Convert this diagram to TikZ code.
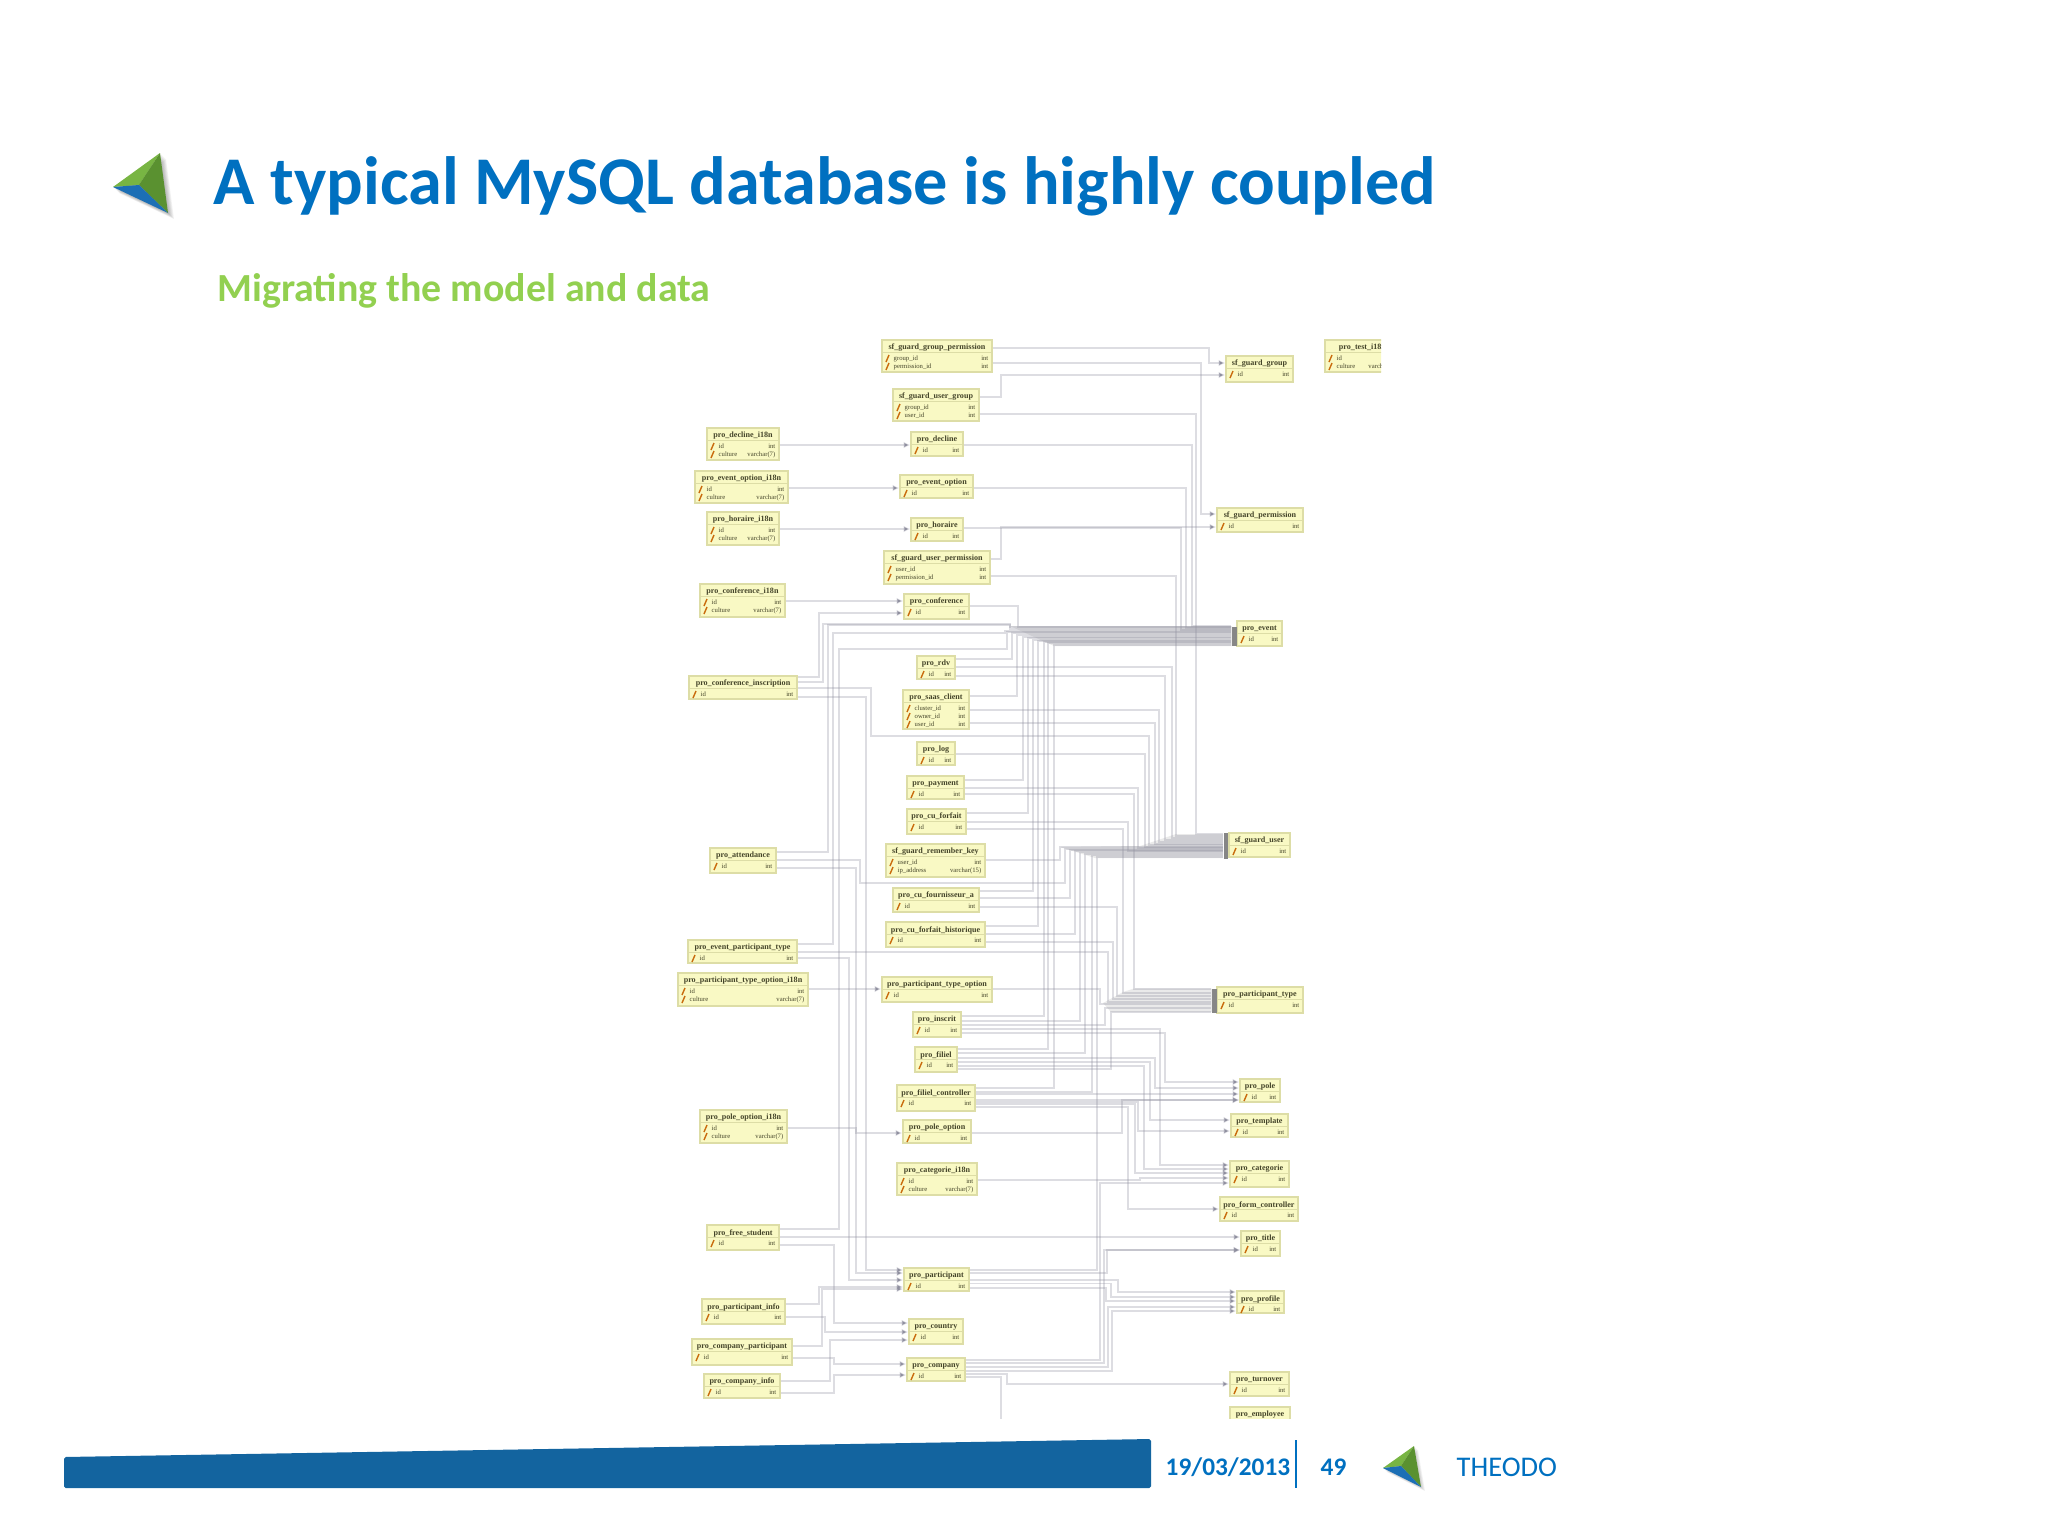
\documentclass[tikz,border=0pt]{standalone}
\usepackage{fontspec}
\setmainfont{Carlito}
\newfontfamily\dbfont{Liberation Serif}
\usetikzlibrary{arrows.meta}
\catcode`\_=12

\definecolor{titleblue}{HTML}{0070C0}
\definecolor{subgreen}{HTML}{92D050}
\definecolor{barblue}{HTML}{13649F}
\definecolor{dbfill}{HTML}{F9F9C4}
\definecolor{dbedge}{HTML}{DDDDA6}
\definecolor{dbtext}{HTML}{45452A}
\definecolor{fkgray}{HTML}{8E8E9E}
\definecolor{leaflight}{HTML}{78B543}
\definecolor{leafdark}{HTML}{5A9130}
\definecolor{leafblue}{HTML}{1C6FB5}

\tikzset{
	dbbox/.style={draw=dbedge,line width=0.35pt,fill=dbfill,inner sep=0pt},
	dbtitle/.style={font=\dbfont\bfseries\fontsize{2.3}{3}\selectfont,text=dbtext,inner sep=0pt},
	dbfield/.style={font=\dbfont\fontsize{1.9}{2.4}\selectfont,text=dbtext,inner sep=0pt},
	dbsep/.style={draw=dbedge,line width=0.3pt},
	dbkey/.style={draw=black!20!orange!80!brown,line width=0.4pt},
	dbbar/.style={fill=gray!95,inner sep=0pt,minimum width=1.4pt},
	bundle/.style={fill=gray!55,opacity=0.3},
	fk/.style={draw=fkgray,draw opacity=0.3,line width=0.55pt},
	fka/.style={fk,-{Latex[length=1.9pt,width=1.9pt]}},
	slidetext/.style={inner sep=0pt,anchor=base west}
}

% name, x1, y1, x2, y2, title, rows
\newcommand{\dbtable}[7]{
	\node[dbbox,minimum width={(#4-#2)*0.2845pt},minimum height={(#5-#3)*0.2845pt}] at ({(#2+#4)/2},{(#3+#5)/2}) (#1) {};
	\node[dbtitle] at ({(#2+#4)/2},#3+8) (#1-title) {#6};
	\draw[dbsep] (#2,#3+12.5) -- (#4,#3+12.5);
	\foreach \fld/\typ [count=\i] in {#7} {
		\draw[dbkey] (#2+4,{#3+14+8*\i}) -- (#2+7,{#3+7+8*\i});
		\node[dbfield,anchor=west] at (#2+11,{#3+10.5+8*\i}) (#1-f\i) {\fld};
		\node[dbfield,anchor=east] at (#4-3,{#3+10.5+8*\i}) (#1-t\i) {\typ};
	}
}

\begin{document}
\begin{tikzpicture}[x=0.01cm,y=-0.01cm]
	\useasboundingbox (0,0) rectangle (2048,1536);

	% header
	\foreach \d in {1,...,6} {
		\fill[black,opacity=0.05,shift={(\d,\d)}] (160,153) -- (113,187) -- (168,213) -- cycle;
	}
	\fill[leaflight] (160,153) -- (113,187) -- (139,185) -- cycle;
	\fill[leafdark] (160,153) -- (139,185) -- (168,213) -- cycle;
	\fill[leafblue] (113,187) -- (139,185) -- (168,213) -- cycle;
	\node[slidetext,text=titleblue,font=\bfseries\fontsize{19.42}{19.42}\selectfont] at (213,204) (headline) {A typical MySQL database is highly coupled};
	\node[slidetext,text=subgreen,font=\bfseries\fontsize{11.34}{11.34}\selectfont] at (217,301) (subline) {Migrating the model and data};

	% footer
	\fill[barblue,rounded corners=0.5pt] (64,1457) -- (1151,1439) -- (1151,1488) -- (64,1488) -- cycle;
	\node[slidetext,text=titleblue,font=\bfseries\fontsize{7.2}{7.2}\selectfont] at (1165,1475) (date) {19/03/2013};
	\draw[titleblue,line width=0.4pt] (1296,1440) -- (1296,1488);
	\node[slidetext,text=titleblue,font=\bfseries\fontsize{7.2}{7.2}\selectfont] at (1320,1475) (page) {49};
	\foreach \d in {1,...,4} {
		\fill[black,opacity=0.05,shift={(\d,\d)}] (1414,1446) -- (1383,1468) -- (1421,1487) -- cycle;
	}
	\fill[leaflight] (1414,1446) -- (1383,1468) -- (1401,1466) -- cycle;
	\fill[leafdark] (1414,1446) -- (1401,1466) -- (1421,1487) -- cycle;
	\fill[leafblue] (1383,1468) -- (1401,1466) -- (1421,1487) -- cycle;
	\node[slidetext,text=titleblue,font=\fontsize{8.1}{8.1}\selectfont] at (1456,1476) (company-name) {THEODO};

	\begin{scope}
	\clip (660,330) rectangle (1381,1418);

	% tables
	\dbtable{group_perm}{882}{340}{992}{372}{sf_guard_group_permission}{group_id/int,permission_id/int}
	\dbtable{guard_group}{1226}{356}{1293}{382}{sf_guard_group}{id/int}
	\dbtable{test_i18n}{1325}{340}{1400}{372}{pro_test_i18n}{id/int,culture/varchar(7)}
	\dbtable{user_group}{893}{389}{979}{421}{sf_guard_user_group}{group_id/int,user_id/int}
	\dbtable{decline_i18n}{707}{428}{779}{460}{pro_decline_i18n}{id/int,culture/varchar(7)}
	\dbtable{decline}{911}{432}{963}{456}{pro_decline}{id/int}
	\dbtable{evopt_i18n}{695}{471}{788}{503}{pro_event_option_i18n}{id/int,culture/varchar(7)}
	\dbtable{evopt}{900}{475}{973}{498}{pro_event_option}{id/int}
	\dbtable{horaire_i18n}{707}{512}{779}{545}{pro_horaire_i18n}{id/int,culture/varchar(7)}
	\dbtable{horaire}{911}{518}{963}{541}{pro_horaire}{id/int}
	\dbtable{guard_perm}{1217}{508}{1303}{532}{sf_guard_permission}{id/int}
	\dbtable{user_perm}{884}{551}{990}{584}{sf_guard_user_permission}{user_id/int,permission_id/int}
	\dbtable{conf_i18n}{700}{584}{785}{617}{pro_conference_i18n}{id/int,culture/varchar(7)}
	\dbtable{conf}{904}{594}{969}{619}{pro_conference}{id/int}
	\dbtable{event}{1237}{621}{1282}{646}{pro_event}{id/int}
	\dbtable{rdv}{917}{656}{955}{679}{pro_rdv}{id/int}
	\dbtable{conf_insc}{689}{676}{797}{699}{pro_conference_inscription}{id/int}
	\dbtable{saas}{903}{690}{969}{729}{pro_saas_client}{cluster_id/int,owner_id/int,user_id/int}
	\dbtable{log}{917}{742}{955}{765}{pro_log}{id/int}
	\dbtable{payment}{907}{776}{964}{799}{pro_payment}{id/int}
	\dbtable{forfait}{907}{809}{966}{834}{pro_cu_forfait}{id/int}
	\dbtable{rem_key}{886}{844}{985}{877}{sf_guard_remember_key}{user_id/int,ip_address/varchar(15)}
	\dbtable{attendance}{710}{848}{776}{873}{pro_attendance}{id/int}
	\dbtable{guard_user}{1229}{833}{1290}{857}{sf_guard_user}{id/int}
	\dbtable{fournisseur}{893}{888}{979}{912}{pro_cu_fournisseur_a}{id/int}
	\dbtable{forfait_hist}{886}{922}{985}{947}{pro_cu_forfait_historique}{id/int}
	\dbtable{ev_part_type}{688}{940}{797}{963}{pro_event_participant_type}{id/int}
	\dbtable{pt_opt_i18n}{678}{973}{808}{1006}{pro_participant_type_option_i18n}{id/int,culture/varchar(7)}
	\dbtable{pt_opt}{882}{977}{992}{1002}{pro_participant_type_option}{id/int}
	\dbtable{part_type}{1217}{987}{1303}{1013}{pro_participant_type}{id/int}
	\dbtable{inscrit}{913}{1012}{961}{1037}{pro_inscrit}{id/int}
	\dbtable{filiel}{915}{1047}{957}{1072}{pro_filiel}{id/int}
	\dbtable{pole}{1240}{1079}{1280}{1102}{pro_pole}{id/int}
	\dbtable{filiel_ctrl}{897}{1085}{975}{1111}{pro_filiel_controller}{id/int}
	\dbtable{pole_opt_i18n}{700}{1110}{787}{1143}{pro_pole_option_i18n}{id/int,culture/varchar(7)}
	\dbtable{pole_opt}{903}{1120}{971}{1143}{pro_pole_option}{id/int}
	\dbtable{template}{1231}{1114}{1288}{1137}{pro_template}{id/int}
	\dbtable{cat_i18n}{897}{1163}{977}{1195}{pro_categorie_i18n}{id/int,culture/varchar(7)}
	\dbtable{categorie}{1230}{1161}{1289}{1187}{pro_categorie}{id/int}
	\dbtable{form_ctrl}{1220}{1197}{1298}{1221}{pro_form_controller}{id/int}
	\dbtable{free_student}{707}{1225}{779}{1250}{pro_free_student}{id/int}
	\dbtable{title}{1241}{1231}{1280}{1256}{pro_title}{id/int}
	\dbtable{participant}{904}{1268}{969}{1291}{pro_participant}{id/int}
	\dbtable{profile}{1237}{1291}{1284}{1313}{pro_profile}{id/int}
	\dbtable{part_info}{702}{1299}{785}{1324}{pro_participant_info}{id/int}
	\dbtable{country}{909}{1319}{963}{1344}{pro_country}{id/int}
	\dbtable{comp_part}{692}{1339}{792}{1365}{pro_company_participant}{id/int}
	\dbtable{company}{907}{1358}{965}{1381}{pro_company}{id/int}
	\dbtable{comp_info}{704}{1374}{780}{1398}{pro_company_info}{id/int}
	\dbtable{turnover}{1230}{1372}{1289}{1396}{pro_turnover}{id/int}
	\dbtable{employee}{1230}{1407}{1290}{1431}{pro_employee}{id/int}

	\node[dbbar,minimum height=5.4pt] at (1234.5,636.5) (event_bar) {};
	\node[dbbar,minimum height=7.4pt] at (1226,846) (user_bar) {};
	\node[dbbar,minimum height=6.9pt] at (1214.5,1001) (type_bar) {};

	% the thick bands in front of the bars
	\fill[bundle] (1010,626) -- (1232,626) -- (1232,646) -- (1054,646) -- cycle;
	\fill[bundle] (1060,847) -- (1140,846) -- (1176,834) -- (1223,834) -- (1223,858) -- (1095,858) -- cycle;
	\fill[bundle] (1134,988.5) -- (1212,988.5) -- (1212,1012) -- (1111,1012) -- (1103,1003) -- (1123,992) -- cycle;

	% top of the schema
	\draw[fka] (group_perm.east |- 0,348) -| (1209,363) -- (guard_group.west |- 0,363);
	\draw[fka] (group_perm.east |- 0,363) -| (1201,514) -- (guard_perm.west |- 0,514);
	\draw[fka] (user_group.east |- 0,397) -| (1001,375) -- (guard_group.west |- 0,375);
	\draw[fka] (user_perm.east |- 0,559) -| (1001,527) -- (guard_perm.west |- 0,527);
	\draw[fka] (decline_i18n.east |- 0,445) -- (decline.west |- 0,445);
	\draw[fka] (evopt_i18n.east |- 0,488) -- (evopt.west |- 0,488);
	\draw[fka] (horaire_i18n.east |- 0,529) -- (horaire.west |- 0,529);
	\draw[fka] (conf_i18n.east |- 0,601) -- (conf.west |- 0,601);
	\draw[fka] (conf_insc.east |- 0,677) -| (819,613) -- (conf.west |- 0,613);
	\draw[fka] (pt_opt_i18n.east |- 0,989) -- (pt_opt.west |- 0,989);

	% into pro_event
	\draw[fk] (decline.east |- 0,445) -| (1192,626) -- (event_bar.west |- 0,626);
	\draw[fk] (evopt.east |- 0,488) -| (1186,628) -- (event_bar.west |- 0,628);
	\draw[fk] (horaire.east |- 0,528) -| (1181,630) -- (event_bar.west |- 0,630);
	\draw[fk] (conf.east |- 0,606) -| (1018,627) -- (event_bar.west |- 0,627);
	\draw[fk] (conf_insc.east |- 0,682) -| (823,624) -| (1010,627) -- (event_bar.west |- 0,627);
	\draw[fk] (attendance.east |- 0,852) -| (828,625) -| (1010,629) -- (event_bar.west |- 0,629);
	\draw[fk] (ev_part_type.east |- 0,944) -| (833,633) -| (1005,631) -- (event_bar.west |- 0,631);
	\draw[fk] (free_student.east |- 0,1229) -| (839,649) -| (1007,632) -- (event_bar.west |- 0,632);
	\draw[fk] (rdv.east |- 0,659) -| (1012,633) -- (event_bar.west |- 0,633);
	\draw[fk] (saas.east |- 0,696) -| (1017,635) -- (event_bar.west |- 0,635);
	\draw[fk] (payment.east |- 0,780) -| (1023,637) -- (event_bar.west |- 0,637);
	\draw[fk] (forfait.east |- 0,813) -| (1028,638) -- (event_bar.west |- 0,638);
	\draw[fk] (fournisseur.east |- 0,891) -| (1033,640) -- (event_bar.west |- 0,640);
	\draw[fk] (forfait_hist.east |- 0,926) -| (1038,641) -- (event_bar.west |- 0,641);
	\draw[fk] (inscrit.east |- 0,1016) -| (1044,642) -- (event_bar.west |- 0,642);
	\draw[fk] (filiel.east |- 0,1049) -| (1048,643) -- (event_bar.west |- 0,643);
	\draw[fk] (filiel_ctrl.east |- 0,1088) -| (1054,645) -- (event_bar.west |- 0,645);

	% into sf_guard_user
	\draw[fk] (user_group.east |- 0,414) -| (1196,834) -- (user_bar.west |- 0,834);
	\draw[fk] (user_perm.east |- 0,576) -| (1176,836) -- (user_bar.west |- 0,836);
	\draw[fk] (rdv.east |- 0,667) -| (1172,838) -- (user_bar.west |- 0,838);
	\draw[fk] (rdv.east |- 0,676) -| (1165,840) -- (user_bar.west |- 0,840);
	\draw[fk] (saas.east |- 0,710) -| (1159,842) -- (user_bar.west |- 0,842);
	\draw[fk] (saas.east |- 0,723) -| (1155,844) -- (user_bar.west |- 0,844);
	\draw[fk] (conf_insc.east |- 0,688) -| (871,736) -| (1149,845) -- (user_bar.west |- 0,845);
	\draw[fk] (log.east |- 0,754) -| (1145,847) -- (user_bar.west |- 0,847);
	\draw[fk] (payment.east |- 0,788) -| (1138,848) -- (user_bar.west |- 0,848);
	\draw[fk] (forfait.east |- 0,822) -| (1128,851) -- (user_bar.west |- 0,851);
	\draw[fk] (rem_key.east |- 0,860) -| (1060,847) -- (user_bar.west |- 0,847);
	\draw[fk] (attendance.east |- 0,860) -| (860,883) -| (1065,849) -- (user_bar.west |- 0,849);
	\draw[fk] (fournisseur.east |- 0,898) -| (1070,850) -- (user_bar.west |- 0,850);
	\draw[fk] (forfait_hist.east |- 0,934) -| (1075,851) -- (user_bar.west |- 0,851);
	\draw[fk] (inscrit.east |- 0,1021) -| (1080,852.5) -- (user_bar.west |- 0,852.5);
	\draw[fk] (filiel.east |- 0,1053) -| (1085,854) -- (user_bar.west |- 0,854);
	\draw[fk] (filiel_ctrl.east |- 0,1092) -| (1092,855.5) -- (user_bar.west |- 0,855.5);
	\draw[fk] (participant.east |- 0,1270) -| (1097,857) -- (user_bar.west |- 0,857);

	% into pro_participant_type
	\draw[fk] (payment.east |- 0,794) -| (1134,989) -- (type_bar.west |- 0,989);
	\draw[fk] (forfait.east |- 0,829) -| (1123,993) -- (type_bar.west |- 0,993);
	\draw[fk] (fournisseur.east |- 0,907) -| (1117,996) -- (type_bar.west |- 0,996);
	\draw[fk] (forfait_hist.east |- 0,942) -| (1113,999) -- (type_bar.west |- 0,999);
	\draw[fk] (ev_part_type.east |- 0,952) -| (1108,1002) -- (type_bar.west |- 0,1002);
	\draw[fk] (pt_opt.east |- 0,989) -| (1100,1004) -- (type_bar.west |- 0,1004);
	\draw[fk] (inscrit.east |- 0,1025) -| (1105,1008) -- (type_bar.west |- 0,1008);
	\draw[fk] (filiel.east |- 0,1069) -| (1111,1012) -- (type_bar.west |- 0,1012);

	% pole, template, categorie, form controller
	\draw[fka] (inscrit.east |- 0,1033) -| (1165,1082) -- (pole.west |- 0,1082);
	\draw[fka] (filiel.east |- 0,1058) -| (1155,1088) -- (pole.west |- 0,1088);
	\draw[fka] (filiel_ctrl.east |- 0,1094) -- (pole.west |- 0,1094);
	\draw[fka] (filiel_ctrl.east |- 0,1100) -- (pole.west |- 0,1100);
	\draw[fka] (pole_opt.east |- 0,1133) -| (1122,1100) -- (pole.west |- 0,1100);
	\draw[fka] (filiel.east |- 0,1062) -| (1150,1120) -- (template.west |- 0,1120);
	\draw[fka] (filiel_ctrl.east |- 0,1102) -| (1138,1131) -- (template.west |- 0,1131);
	\draw[fka] (inscrit.east |- 0,1029) -| (1160,1165) -- (categorie.west |- 0,1165);
	\draw[fka] (filiel.east |- 0,1066) -| (1144,1169) -- (categorie.west |- 0,1169);
	\draw[fka] (filiel_ctrl.east |- 0,1104) -| (1135,1173) -- (categorie.west |- 0,1173);
	\draw[fka] (cat_i18n.east |- 0,1180) -| (1140,1178) -- (categorie.west |- 0,1178);
	\draw[fka] (company.east |- 0,1360) -| (1100,1183) -- (categorie.west |- 0,1183);
	\draw[fka] (filiel_ctrl.east |- 0,1107) -| (1128,1209) -- (form_ctrl.west |- 0,1209);
	\draw[fka] (pole_opt_i18n.east |- 0,1128) -| (856,1133) -- (pole_opt.west |- 0,1133);

	% bottom of the schema
	\draw[fka] (free_student.east |- 0,1237) -- (title.west |- 0,1237);
	\draw[fka] (participant.east |- 0,1273) -| (1107,1250) -- (title.west |- 0,1250);
	\draw[fka] (company.east |- 0,1363) -| (1104,1250) -- (title.west |- 0,1250);
	\draw[fka] (conf_insc.east |- 0,697) -| (866,1270) -- (participant.west |- 0,1270);
	\draw[fka] (attendance.east |- 0,868) -| (856,1273) -- (participant.west |- 0,1273);
	\draw[fka] (ev_part_type.east |- 0,958) -| (849,1280) -- (participant.west |- 0,1280);
	\draw[fka] (part_info.east |- 0,1304) -| (819,1287) -- (participant.west |- 0,1287);
	\draw[fka] (comp_part.east |- 0,1346) -| (822,1289) -- (participant.west |- 0,1289);
	\draw[fka] (participant.east |- 0,1280) -| (1118,1292) -- (profile.west |- 0,1292);
	\draw[fka] (participant.east |- 0,1283.5) -| (1111,1297) -- (profile.west |- 0,1297);
	\draw[fka] (participant.east |- 0,1288) -| (1106,1301) -- (profile.west |- 0,1301);
	\draw[fka] (company.east |- 0,1367) -| (1108,1307) -- (profile.west |- 0,1307);
	\draw[fka] (company.east |- 0,1371) -| (1112,1311) -- (profile.west |- 0,1311);
	\draw[fka] (free_student.east |- 0,1245) -| (834,1323) -- (country.west |- 0,1323);
	\draw[fka] (part_info.east |- 0,1317) -| (825,1332) -- (country.west |- 0,1332);
	\draw[fka] (comp_info.east |- 0,1381) -| (830,1340) -- (country.west |- 0,1340);
	\draw[fka] (comp_part.east |- 0,1358) -| (834,1364) -- (company.west |- 0,1364);
	\draw[fka] (comp_info.east |- 0,1393) -| (834,1375) -- (company.west |- 0,1375);
	\draw[fka] (company.east |- 0,1374) -| (1007,1384) -- (turnover.west |- 0,1384);
	\draw[fka] (company.east |- 0,1377) -| (1001,1425) -- (employee.west |- 0,1425);
	\end{scope}
\end{tikzpicture}
\end{document}
